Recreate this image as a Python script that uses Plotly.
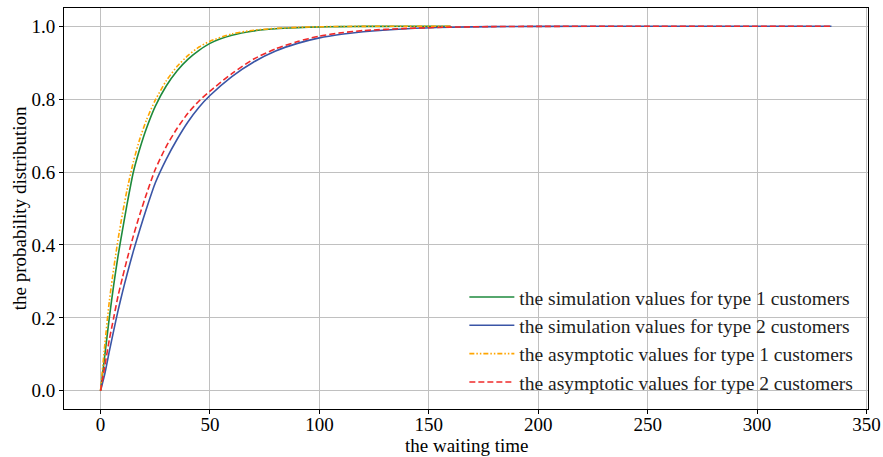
import plotly.graph_objects as go

# waiting time grid
x_t1 = [0, 2, 4, 6, 8, 10, 12, 15, 18, 21, 25, 30, 35, 40, 45, 50, 60, 70, 80, 90,
        100, 110, 120, 140, 160]
x_t2 = [0, 2, 4, 6, 8, 10, 12, 15, 18, 21, 25, 30, 35, 40, 45, 50, 60, 70, 80, 90,
        100, 110, 120, 140, 160, 180, 200, 250, 300, 334]

sim_type1 = [0, 0.10, 0.20, 0.29, 0.37, 0.44, 0.508, 0.60, 0.665, 0.72, 0.78, 0.836,
             0.878, 0.91, 0.934, 0.953, 0.975, 0.987, 0.993, 0.996, 0.998, 0.999,
             0.9995, 0.9998, 1.0]
asy_type1 = [0, 0.13, 0.245, 0.335, 0.415, 0.485, 0.548, 0.628, 0.692, 0.743, 0.797,
             0.85, 0.89, 0.92, 0.943, 0.959, 0.979, 0.989, 0.994, 0.997, 0.9985,
             0.9993, 0.9997, 0.9999, 1.0]
sim_type2 = [0, 0.048, 0.108, 0.165, 0.22, 0.27, 0.317, 0.383, 0.443, 0.50, 0.57,
             0.635, 0.69, 0.738, 0.778, 0.81, 0.862, 0.902, 0.932, 0.953, 0.968,
             0.978, 0.985, 0.993, 0.997, 0.999, 0.9996, 1.0, 1.0, 1.0]
asy_type2 = [0, 0.07, 0.14, 0.20, 0.26, 0.31, 0.358, 0.425, 0.485, 0.54, 0.607, 0.67,
             0.72, 0.762, 0.795, 0.822, 0.87, 0.91, 0.938, 0.958, 0.973, 0.982, 0.988,
             0.994, 0.9975, 0.999, 0.9996, 1.0, 1.0, 1.0]

names = ["the simulation values for type 1 customers",
         "the simulation values for type 2 customers",
         "the asymptotic values for type 1 customers",
         "the asymptotic values for type 2 customers"]
x_title = "the waiting time"
y_title = "the probability distribution"

FONT = "Liberation Serif, Times New Roman, serif"
FS = 19

fig = go.Figure()
fig.add_trace(go.Scatter(x=x_t1, y=sim_type1, mode="lines", name=names[0],
                         line=dict(color="#1e8a3c", width=1.6, shape="spline",
                                   smoothing=0.6), legendgroup="a"))
fig.add_trace(go.Scatter(x=x_t2, y=sim_type2, mode="lines", name=names[1],
                         line=dict(color="#3a55a6", width=1.6, shape="spline",
                                   smoothing=0.6), legendgroup="b"))
fig.add_trace(go.Scatter(x=x_t1, y=asy_type1, mode="lines", name=names[2],
                         line=dict(color="#ffa500", width=1.6, shape="spline",
                                   smoothing=0.6,
                                   dash="5px,2px,1.5px,2px,1.5px,2px"), legendgroup="c"))
fig.add_trace(go.Scatter(x=x_t2, y=asy_type2, mode="lines", name=names[3],
                         line=dict(color="#f02a2a", width=1.6, dash="6px,3px",
                                   shape="spline", smoothing=0.6),
                         legendgroup="d"))

axis_common = dict(showline=True, linecolor="black", linewidth=1, mirror=True,
                   ticks="outside", ticklen=4, tickcolor="black",
                   showgrid=True, gridcolor="#c0c0c0", gridwidth=1, zeroline=False,
                   automargin=False,
                   tickfont=dict(family=FONT, size=FS, color="black"))

fig.update_layout(
    width=883, height=457,
    margin=dict(l=64, r=15, t=8, b=48),
    paper_bgcolor="white", plot_bgcolor="white",
    font=dict(family=FONT, size=FS, color="black"),
    showlegend=True,
    legend=dict(x=0.988, xanchor="right", y=0.018, yanchor="bottom",
                bgcolor="rgba(0,0,0,0)", borderwidth=0, itemwidth=45,
                font=dict(family=FONT, size=19.5, color="#222"),
                tracegroupgap=0),
    xaxis=dict(range=[-16.7, 350.7], tickvals=[0, 50, 100, 150, 200, 250, 300, 350],
               ticklabelstandoff=-6, **axis_common),
    yaxis=dict(range=[-0.05, 1.05], tickvals=[0, 0.2, 0.4, 0.6, 0.8, 1.0],
               tickformat=".1f", **axis_common),
    annotations=[
        dict(text=x_title, xref="paper", yref="paper", x=0.5, y=-0.092,
             xanchor="center", yanchor="middle", showarrow=False,
             font=dict(family=FONT, size=FS, color="black")),
        dict(text=y_title, xref="paper", yref="paper", x=-0.0551, y=0.5,
             xanchor="center", yanchor="middle", showarrow=False, textangle=-90,
             font=dict(family=FONT, size=FS, color="black")),
    ],
)

fig.write_html("out.html", config={"displayModeBar": False},
               post_script="document.body.style.margin='0';document.body.style.overflow='hidden';")
